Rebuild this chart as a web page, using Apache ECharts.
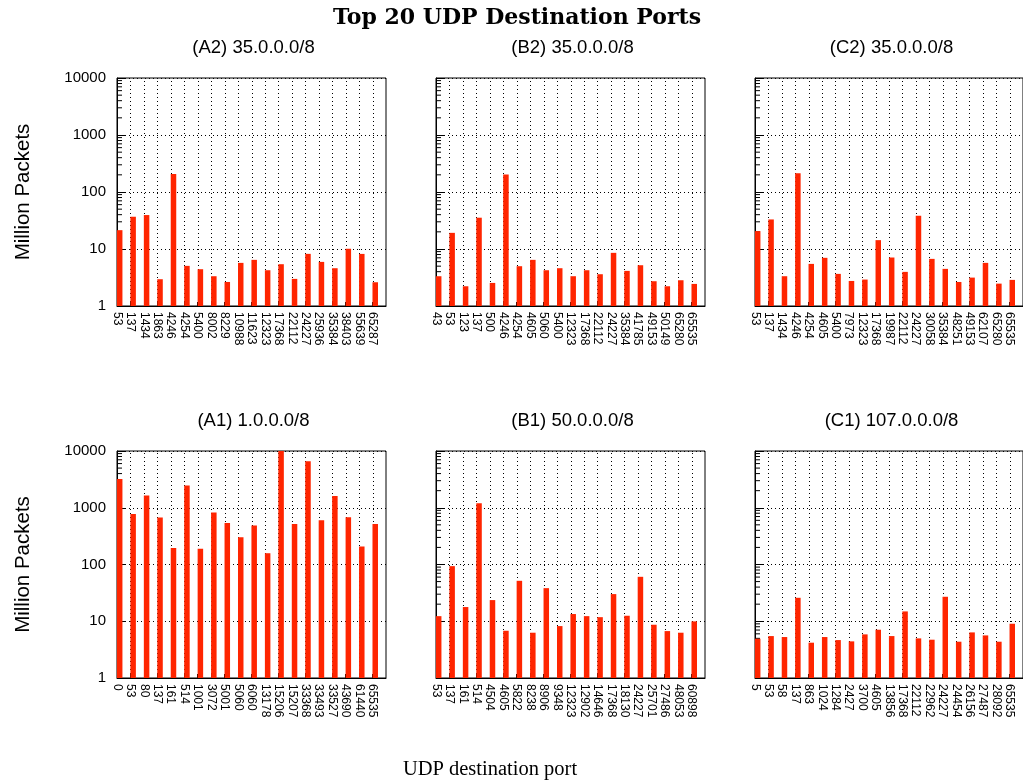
<!DOCTYPE html>
<html><head><meta charset="utf-8">
<script src="https://cdn.jsdelivr.net/npm/echarts@6/dist/echarts.min.js"></script>
<style>html,body{margin:0;padding:0;background:#fff}#c{width:1023px;height:781px}</style>
</head><body><div id="c"></div>
<script>
const portsA2 = ['53','137','1434','1863','4246','4254','5400','8002','8229','10988','11623','12323','17368','22112','24227','25936','35384','38403','55639','65287'];
const valsA2  = [21.4,36.8,39.4,2.95,207,5.06,4.42,3.33,2.64,5.71,6.45,4.24,5.41,2.99,8.22,5.94,4.6,10.1,8.2,2.61];
const portsB2 = ['43','53','123','137','500','4246','4254','4605','5060','5400','12323','17368','22112','24227','35384','41785','49153','50149','65280','65535'];
const valsB2  = [3.33,19.2,2.22,35.4,2.54,202,4.99,6.45,4.24,4.6,3.33,4.24,3.61,8.56,4.13,5.19,2.72,2.22,2.83,2.44];
const portsC2 = ['53','137','1434','4246','4254','4605','5400','7973','12323','17368','19987','22112','24227','30058','35384','48251','49153','62107','65280','65535'];
const valsC2  = [20.6,33.0,3.33,213,5.48,7.0,3.66,2.75,2.91,14.3,7.09,3.97,38.3,6.71,4.48,2.64,3.15,5.71,2.47,2.87];
const portsA1 = ['0','53','80','137','161','514','1001','3072','5001','5060','6060','13178','15206','15207','33368','33493','33527','43690','61440','65535'];
const valsA1  = [3217,779,1637,671,196,2455,189,822,541,303,486,158,10000,519,6577,603,1615,680,207,519];
const portsB1 = ['53','137','161','514','4504','4605','5822','8238','8906','9348','12323','12902','14646','17368','18130','24227','25701','27486','48053','60898'];
const valsB1  = [12.3,93.5,17.8,1200,23.6,6.8,51.6,6.28,38.3,8.22,13.4,12.3,11.8,30.1,12.5,60.7,8.68,6.71,6.28,9.94];
const portsC1 = ['5','53','58','137','863','1024','1284','2427','3700','4605','13856','17368','22112','22962','24227','24454','26156','27487','28092','65535'];
const valsC1  = [4.92,5.48,5.27,25.9,4.19,5.27,4.66,4.42,5.87,7.09,5.48,14.9,4.99,4.73,27.0,4.36,6.36,5.63,4.36,9.04];
const minorTickValues = [2,3,4,5,6,7,8,9,20,30,40,50,60,70,80,90,200,300,400,500,600,700,800,900,2000,3000,4000,5000,6000,7000,8000,9000];
const yMin = 1, yMax = 10000;

const panels = [
  {title:'(A2) 35.0.0.0/8', ports:portsA2, vals:valsA2, left:117, top:78, h:228, first:true},
  {title:'(B2) 35.0.0.0/8', ports:portsB2, vals:valsB2, left:436, top:78, h:228},
  {title:'(C2) 35.0.0.0/8', ports:portsC2, vals:valsC2, left:755, top:78, h:228},
  {title:'(A1) 1.0.0.0/8', ports:portsA1, vals:valsA1, left:117, top:451, h:227, first:true},
  {title:'(B1) 50.0.0.0/8', ports:portsB1, vals:valsB1, left:436, top:451, h:227},
  {title:'(C1) 107.0.0.0/8', ports:portsC1, vals:valsC1, left:755, top:451, h:227}
];
const W = 269;
const sans = 'Liberation Sans, Arial, sans-serif';
const grid=[], xAxis=[], yAxis=[], series=[], title=[];
title.push({text:'Top 20 UDP Destination Ports', left:512, top:2, textAlign:'center',
  textStyle:{fontFamily:'DejaVu Serif', fontWeight:'bold', fontSize:22, color:'#000'}});
title.push({text:'UDP destination port', left:485, top:754, textAlign:'center',
  textStyle:{fontFamily:'Liberation Serif', fontWeight:'normal', fontSize:20.5, color:'#000'}});
panels.forEach((p,g)=>{
  grid.push({left:p.left, top:p.top, width:W, height:p.h, show:true, borderColor:'#000', borderWidth:1});
  title.push({text:p.title, left:p.left+W/2-3, top:p.top-45, textAlign:'center',
    textStyle:{fontFamily:sans, fontWeight:'normal', fontSize:18.5, color:'#000'}});
  xAxis.push({type:'value', gridIndex:g, min:0, max:p.ports.length, interval:1,
    axisLine:{show:true, lineStyle:{color:'#000', width:1}},
    axisTick:{show:true, inside:true, length:4, lineStyle:{color:'#000'}},
    axisLabel:{rotate:-90, fontSize:12, color:'#000', fontFamily:sans, margin:6,
      showMaxLabel:false, formatter:(v)=> (p.ports[v] !== undefined ? p.ports[v] : '')},
    splitLine:{show:false}});
  yAxis.push({type:'log', logBase:10, gridIndex:g, min:yMin, max:yMax,
    name: p.first ? 'Million Packets' : '', nameLocation:'middle', nameRotate:90, nameGap:83,
    nameTextStyle:{fontFamily:sans, fontSize:20.5, color:'#000'},
    axisLine:{show:true, lineStyle:{color:'#000', width:1}},
    axisTick:{show:true, inside:true, length:9, lineStyle:{color:'#000'}},
    axisLabel:{show:!!p.first, fontSize:15, color:'#000', fontFamily:sans, margin:11,
      formatter:(v)=> String(Math.round(v))},
    splitLine:{show:true, lineStyle:{type:[1,3], color:'#000', width:1}}});
  // vertical dotted grid lines at each port tick
  series.push({type:'custom', xAxisIndex:g, yAxisIndex:g, animation:false, silent:true, z:1,
    data:p.ports.map((_,i)=>[i, yMin]).slice(1),
    renderItem:(params, api)=>{
      const b = api.coord([api.value(0), yMin]);
      const t = api.coord([api.value(0), yMax]);
      const x = Math.round(b[0]) + 0.5;
      return {type:'line', shape:{x1:x, y1:b[1], x2:x, y2:t[1]},
        style:{stroke:'#000', lineWidth:1, lineDash:[1,3]}};
    }});
  // minor log ticks on the left axis (drawn under the bars)
  series.push({type:'custom', xAxisIndex:g, yAxisIndex:g, animation:false, silent:true, z:1,
    data:minorTickValues.map(v=>[0,v]),
    renderItem:(params, api)=>{
      const pt = api.coord([0, api.value(1)]);
      return {type:'line', shape:{x1:pt[0], y1:pt[1], x2:pt[0]+5, y2:pt[1]}, style:{stroke:'#000', lineWidth:1}};
    }});
  series.push({type:'bar', xAxisIndex:g, yAxisIndex:g, barWidth:5.5, animation:false, z:2,
    itemStyle:{color:'#ff2500'}, data:p.vals.map((v,i)=>[i+0.2, v])});
});
const chart = echarts.init(document.getElementById('c'), null, {renderer:'canvas'});
chart.setOption({animation:false, backgroundColor:'#fff', title, grid, xAxis, yAxis, series});
</script></body></html>
